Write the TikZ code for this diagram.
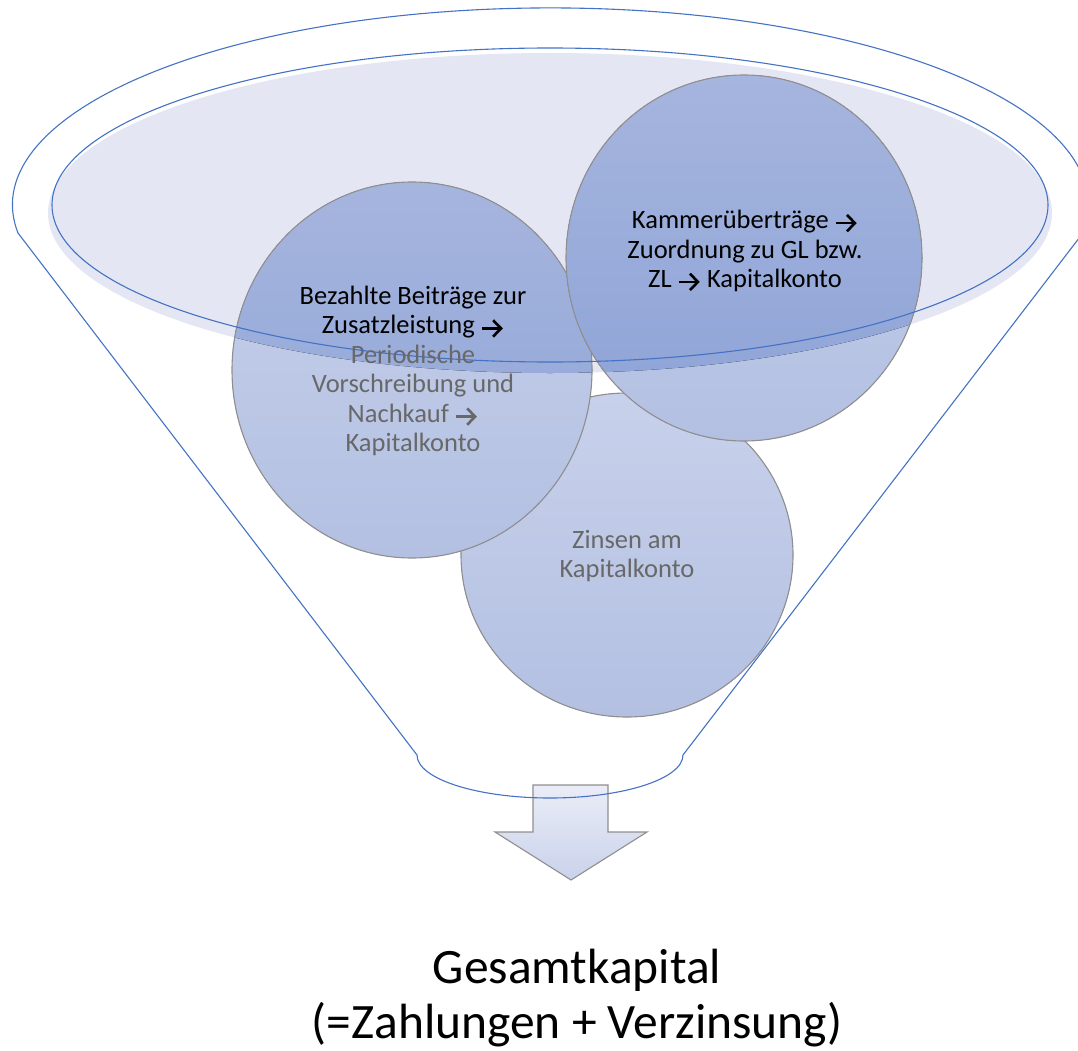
\documentclass[tikz,border=0pt]{standalone}
\usepackage{fontspec}
\setmainfont{Carlito}
\usetikzlibrary{arrows.meta}

\definecolor{funnelblue}{HTML}{4472C4}
\definecolor{rimfill}{HTML}{E4E7F3}
\definecolor{ballhi}{HTML}{C8D1EB}
\definecolor{balllo}{HTML}{B3C0E2}
\definecolor{balldarkhi}{HTML}{A6B5DE}
\definecolor{balldarklo}{HTML}{8CA2D6}
\definecolor{ballrim}{HTML}{8F8F8F}
\definecolor{textgray}{HTML}{686868}
\definecolor{arrowhi}{HTML}{EAEDF7}
\definecolor{arrowlo}{HTML}{CAD2EB}

% small inline arrow, like the one in the text
\newcommand{\arr}{\tikz[baseline=-0.21em, x=1em, y=1em]
    \draw[line width=0.1em, -{Straight Barb[length=0.3em, width=0.62em, line width=0.1em]}] (0,0) -- (0.78,0);}

\begin{document}
\begin{tikzpicture}[
    x=1pt, y=-1pt,
    funnel/.style={draw=funnelblue, line width=1.1pt},
    ball/.style={top color=ballhi, bottom color=balllo},
    balldark/.style={top color=balldarkhi, bottom color=balldarklo},
    ballline/.style={draw=ballrim, line width=1.1pt},
    balltext/.style={font=\fontsize{26.5}{29.4}\selectfont, align=center, inner sep=0pt}
]

\clip (0,0) rectangle (1078,1051);

% rim of the funnel, filled part
\def\rimfill{(550,213) ellipse [x radius=502, y radius=160]}
\fill[rimfill] \rimfill;

% down arrow
\draw[ballrim, line width=1.1pt, top color=arrowhi, bottom color=arrowlo]
    (533,785) -- (608,785) -- (608,832) -- (647,832)
    -- (571,880) -- (495,832) -- (533,832) -- cycle;

% the three balls, bottom one first
\foreach \cx/\cy/\rx/\ry in {627/555/166/162, 412/370/180/188, 744/258/178/183}{
    \fill[ball] (\cx,\cy) ellipse [x radius=\rx, y radius=\ry];
    \begin{scope}
        \clip \rimfill;
        \fill[balldark] (\cx,\cy) ellipse [x radius=\rx, y radius=\ry];
    \end{scope}
    \draw[ballline] (\cx,\cy) ellipse [x radius=\rx, y radius=\ry];
}

% rim outline
\draw[funnel] (550,205) ellipse [x radius=498, y radius=157];

% funnel outline
\draw[funnel] (18,233)
    arc[start angle=188.2, end angle=-8.2, x radius=538pt, y radius=197pt]
    -- (683,755)
    arc[start angle=0, end angle=-180, x radius=133pt, y radius=43pt]
    -- cycle;

\node[balltext, text=textgray] (beitrag) at (413,371)
    {\textcolor{black}{Bezahlte Beiträge zur}\\\textcolor{black}{Zusatzleistung \arr}\\Periodische\\Vorschreibung und\\Nachkauf \arr\\Kapitalkonto};
\node[balltext] (kammer) at (745,251)
    {Kammerüberträge \arr\\Zuordnung zu GL bzw.\\ZL \arr{} Kapitalkonto};
\node[balltext, text=textgray] (zinsen) at (627,556)
    {Zinsen am\\Kapitalkonto};

\node[font=\fontsize{49.5}{55}\selectfont, align=center, inner sep=0pt] (gesamt) at (577,998)
    {Gesamtkapital\\(=Zahlungen + Verzinsung)};

\end{tikzpicture}
\end{document}
